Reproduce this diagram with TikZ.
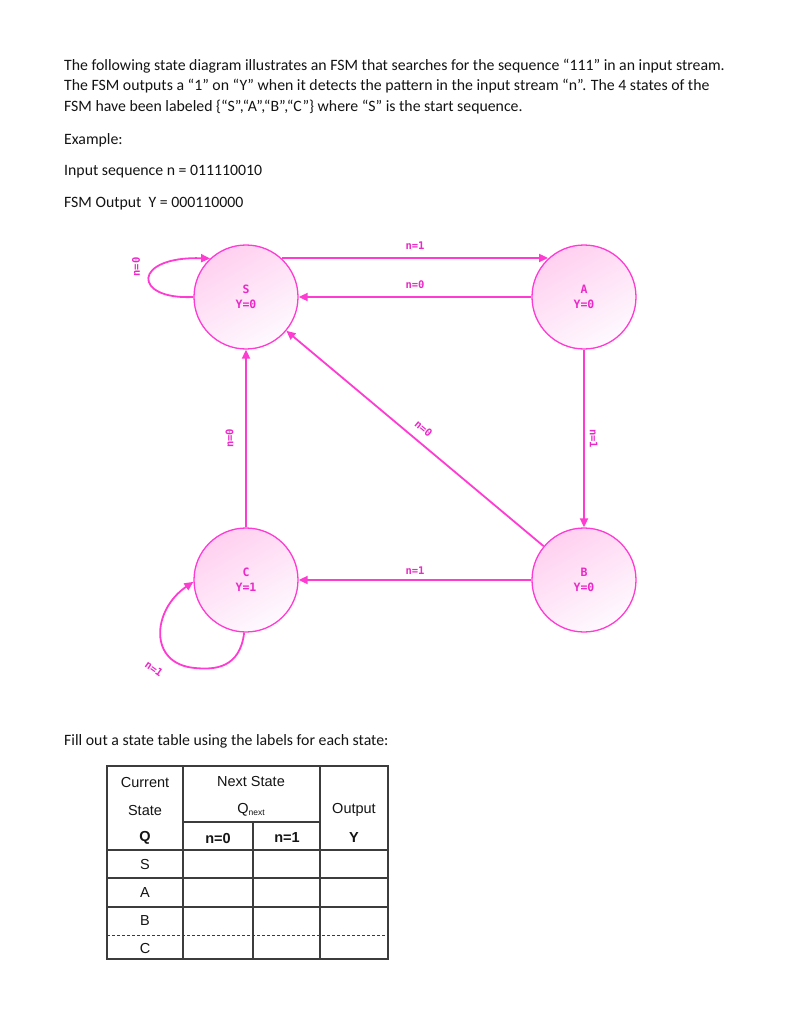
\documentclass[tikz,border=0pt]{standalone}
\usepackage{fontspec}
\setmainfont{Carlito}
\newfontfamily\tabfont{Liberation Sans}
\newfontfamily\monofont{DejaVu Sans Mono}
\usetikzlibrary{arrows.meta,shadings}
\definecolor{pinkline}{RGB}{255,60,210}
\definecolor{pinktext}{RGB}{235,40,200}
\definecolor{fillA}{RGB}{255,208,240}
\definecolor{fillB}{RGB}{254,250,255}
\definecolor{gridc}{RGB}{60,60,60}
\definecolor{bodytext}{RGB}{20,20,20}
\begin{document}
\begin{tikzpicture}[x=1pt,y=-1pt,
  state/.style={circle, draw=pinkline, line width=1.3pt, minimum size=104pt, inner sep=0pt,
    top color=fillA, bottom color=fillB, shading angle=30,
    font=\monofont\bfseries\fontsize{11.5}{15}\selectfont, text=pinktext, align=center},
  conn/.style={draw=pinkline, line width=1.8pt, -{Triangle[length=9pt,width=8pt]}},
  lbl/.style={font=\monofont\bfseries\fontsize{10.5}{12}\selectfont, text=pinktext, inner sep=1.5pt},
  body/.style={anchor=west, inner sep=0pt, font=\fontsize{15.8}{18}\selectfont, text=bodytext},
  tab/.style={inner sep=0pt, font=\tabfont\fontsize{14.5}{16}\selectfont, text=bodytext},
  tabb/.style={tab, font=\tabfont\bfseries\fontsize{14.5}{16}\selectfont},
  gridline/.style={draw=gridc, line width=1.2pt}
]
\useasboundingbox[fill=white] (0,0) rectangle (791,1024);

% body text
\node[body] (t1) at (64,66) {The following state diagram illustrates an FSM that searches for the sequence “111” in an input stream.};
\node[body] (t2) at (64,86) {The FSM outputs a “1” on “Y” when it detects the pattern in the input stream “n”. The 4 states of the};
\node[body] (t3) at (64,107) {FSM have been labeled \{“S”,“A”,“B”,“C”\} where “S” is the start sequence.};
\node[body] (t4) at (64,140) {Example:};
\node[body] (t5) at (64,172) {Input sequence n = 011110010};
\node[body] (t6) at (64,204) {FSM Output~~Y = 000110000};

% states
\node[state] (S) at (246,297) {S\\Y=0};
\node[state] (A) at (584,297) {A\\Y=0};
\node[state] (B) at (584,580) {B\\Y=0};
\node[state] (C) at (246,580) {C\\Y=1};

% transitions
\draw[conn] ([yshift=0.5pt]S.47) -- node[lbl, above=6pt] {n=1} ([yshift=0.5pt]A.133);
\draw[conn] (A.west) -- node[lbl, above=6pt] {n=0} (S.east);
\draw[conn] (A.south) -- node[lbl, sloped, above=3.5pt] {n=1} (B.north);
\draw[conn] (B.west) -- node[lbl, above=3pt] {n=1} (C.east);
\draw[conn] (C.north) -- node[lbl, sloped, above=10pt] {n=0} (S.south);
\draw[conn] (B) -- node[lbl, sloped, above=7pt] {n=0} (S);
\draw[conn] (S.west) .. controls (132,300) and (132,256) .. (S.133);
\node[lbl, rotate=90] (ls) at (136,267) {n=0};
\draw[conn] (C.268) .. controls (240,668) and (215,670) .. (195,668)
  .. controls (148,664) and (152,610) .. (C.182);
\node[lbl, rotate=-35] (lc) at (154,669) {n=1};

% table caption
\node[body] (t7) at (64,741) {Fill out a state table using the labels for each state:};

% table grid
\draw[gridline] (107,766) rectangle (388,959);
\draw[gridline] (183,766) -- (183,959);
\draw[gridline] (320,766) -- (320,959);
\draw[gridline] (253,822) -- (253,959);
\draw[gridline] (183,822) -- (320,822);
\draw[gridline] (107,850) -- (388,850);
\draw[gridline] (107,878) -- (388,878);
\draw[gridline] (107,907) -- (388,907);
\draw[draw=gridc, line width=0.8pt, densely dashed] (107,935) -- (388,935);

% table text
\node[tab] (h1) at (145,782) {Current};
\node[tab] (h2) at (145,810) {State};
\node[tabb] (h3) at (145,838) {Q};
\node[tab] (h4) at (251,781) {Next State};
\node[tab] (h5) at (251,810) {Q\raisebox{-2pt}{\fontsize{8.5}{9}\selectfont next}};
\node[tab] (h6) at (354,810) {Output};
\node[tabb] (h7) at (354,838) {Y};
\node[tabb] (h8) at (218,838) {n=0};
\node[tabb] (h9) at (287,838) {n=1};
\node[tab] (r1) at (145,864) {S};
\node[tab] (r2) at (145,893) {A};
\node[tab] (r3) at (145,921) {B};
\node[tab] (r4) at (145,948) {C};
\end{tikzpicture}
\end{document}
